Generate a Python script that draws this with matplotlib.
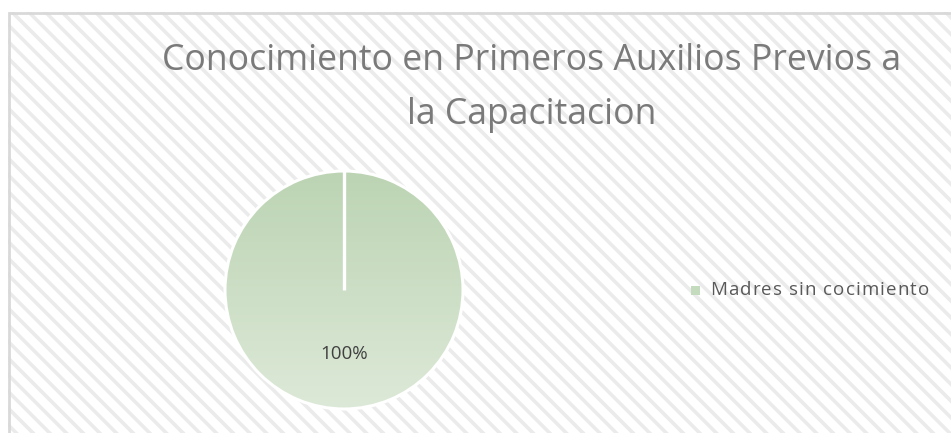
import numpy as np
import matplotlib.pyplot as plt
from matplotlib.patches import Rectangle
import matplotlib.colors as mcolors

title = "Conocimiento en Primeros Auxilios Previos a\nla Capacitacion"
labels = ["Madres sin cocimiento"]
values = [100]

W, H = 951, 433
plt.rcParams['hatch.linewidth'] = 2.6

fig = plt.figure(figsize=(W / 100, H / 100), dpi=100)
ax = fig.add_axes([0, 0, 1, 1])
ax.set_xlim(0, W)
ax.set_ylim(0, H)
ax.set_aspect('equal')
ax.axis('off')

# striped chart area + border
ax.add_patch(Rectangle((8, -10), W + 10, H - 12 + 10, facecolor='white',
                       edgecolor='#ebebeb', linewidth=0, hatch='\\\\', zorder=0))
ax.add_patch(Rectangle((9, -10), W + 10, H - 13 + 10, facecolor='none',
                       edgecolor='#d9d9d9', linewidth=2, zorder=1))

# pie
cx, cy, r = 344, H - 290, 119
wedges, texts, autotexts = ax.pie(values, center=(cx, cy), radius=r, startangle=90,
                                  counterclock=False, autopct='%1.0f%%', pctdistance=0.54,
                                  wedgeprops=dict(edgecolor='white', linewidth=2.2),
                                  textprops=dict(color='#404040', fontsize=13.5, family='Open Sans'))
ax.set_xlim(0, W)
ax.set_ylim(0, H)

cmap = mcolors.LinearSegmentedColormap.from_list('g', ['#dde9d8', '#bcd4b3'])
grad = np.linspace(0, 1, 256).reshape(-1, 1)
for w in wedges:
    w.set_facecolor('none')
    w.set_zorder(3)
    im = ax.imshow(grad, cmap=cmap, origin='lower', extent=(cx - r, cx + r, cy - r, cy + r),
                   aspect='auto', zorder=2)
    im.set_clip_path(w)
# radial edge of the single slice
ax.plot([cx, cx], [cy, cy + r], color='white', lw=2.4, solid_capstyle='butt', zorder=3)
for t in autotexts:
    t.set_zorder(4)

# title
ax.text(532, H - 88, title, ha='center', va='center', fontsize=25.7, color='#7a7a7a',
        family='Open Sans', linespacing=1.68, zorder=5)

# legend (letter-spaced like the original)
ax.add_patch(Rectangle((691, H - 295), 9, 9, facecolor='#c5dbbe', edgecolor='none', zorder=5))
fig.canvas.draw()
renderer = fig.canvas.get_renderer()
lab = labels[0]
x0 = 710
track = 1.1
fs = 13.5
# measure prefix widths with a marker char so trailing spaces count
ref = ax.text(0, 0, "|", fontsize=fs, family='Open Sans')
bar_w = ref.get_window_extent(renderer).width
ref.remove()
for k, ch in enumerate(lab):
    if ch == ' ':
        continue
    if k == 0:
        off = 0
    else:
        m = ax.text(0, 0, lab[:k] + "|", fontsize=fs, family='Open Sans')
        off = m.get_window_extent(renderer).width - bar_w
        m.remove()
    ax.text(x0 + off + k * track, H - 290, ch, ha='left', va='center', fontsize=fs,
            color='#595959', family='Open Sans', zorder=5)

fig.savefig('out.png', dpi=100)
